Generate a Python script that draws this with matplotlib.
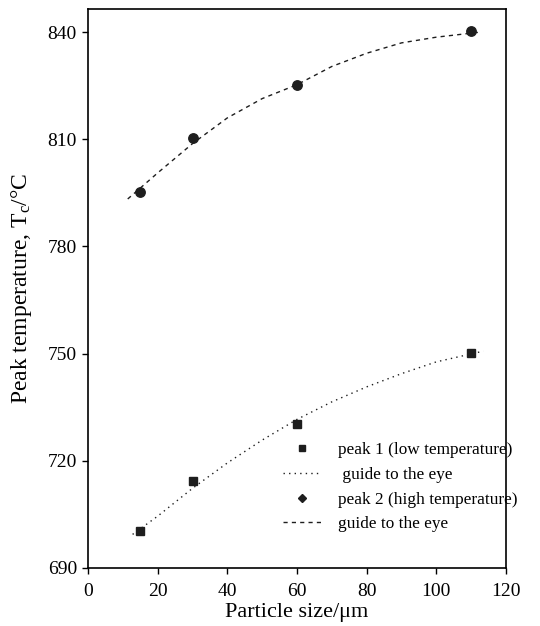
import matplotlib
matplotlib.use("Agg")
import matplotlib.pyplot as plt
from matplotlib.lines import Line2D

plt.rcParams['font.family'] = ['Liberation Serif', 'DejaVu Serif']
plt.rcParams['mathtext.fontset'] = 'custom'
plt.rcParams['mathtext.rm'] = 'Liberation Serif'
plt.rcParams['mathtext.it'] = 'Liberation Serif:italic'

# data
size = [15, 30, 60, 110]
peak1 = [700.4, 714.3, 730.2, 750.2]
peak2 = [795.3, 810.4, 825.3, 840.4]

guide1_x = [12.8, 20, 30, 40, 50, 60, 70, 80, 90, 100, 113.5]
guide1_y = [699.4, 704.5, 712.3, 719.4, 725.8, 731.6, 736.5, 740.7, 744.4, 747.7, 750.7]
guide2_x = [11.4, 20, 30, 40, 50, 60, 70, 80, 90, 100, 112.5]
guide2_y = [793.3, 800.6, 808.8, 816.0, 821.4, 825.3, 830.4, 834.1, 837.0, 838.6, 840.0]

col = '#1e1e1e'

fig = plt.figure(figsize=(5.4, 6.26), dpi=100)
ax = fig.add_axes([0.163, 0.0927, 0.774, 0.893])

ax.plot(guide1_x, guide1_y, linestyle=(0, (1, 3)), color=col, lw=1.0)
ax.plot(guide2_x, guide2_y, linestyle=(0, (3, 3)), color=col, lw=1.0)
ax.plot(size, peak1, linestyle='none', marker='s', ms=5.5, color=col)
ax.plot(size, peak2, linestyle='none', marker='o', ms=6.8, color=col)

ax.set_xlim(0, 120)
ax.set_ylim(690, 846.5)
ax.set_xticks([0, 20, 40, 60, 80, 100, 120])
ax.set_yticks([690, 720, 750, 780, 810, 840])
ax.tick_params(direction='out', length=4.5, width=1, labelsize=14, top=False, right=False)
ax.tick_params(axis='x', pad=6.5)
for s in ax.spines.values():
    s.set_linewidth(1.2)

ax.set_xlabel('Particle size/\u03bcm', fontsize=16, labelpad=2)
ax.set_ylabel('Peak temperature, T$_\\mathrm{c}$/\u00b0C', fontsize=17, labelpad=9.5)

handles = [
    Line2D([], [], linestyle='none', marker='s', ms=5, color=col),
    Line2D([], [], linestyle=(0, (1, 3)), color=col, lw=1.0),
    Line2D([], [], linestyle='none', marker='D', ms=4.5, color=col),
    Line2D([], [], linestyle=(0, (3, 3)), color=col, lw=1.0),
]
labels = ['peak 1 (low temperature)', ' guide to the eye',
          'peak 2 (high temperature)', 'guide to the eye']
ax.legend(handles, labels, loc='upper left', bbox_to_anchor=(0.4665, 0.225),
          frameon=False, fontsize=12.4, handlelength=2.2, handletextpad=1.0,
          labelspacing=0.5, borderpad=0, borderaxespad=0)

fig.savefig('out.png', dpi=100)
